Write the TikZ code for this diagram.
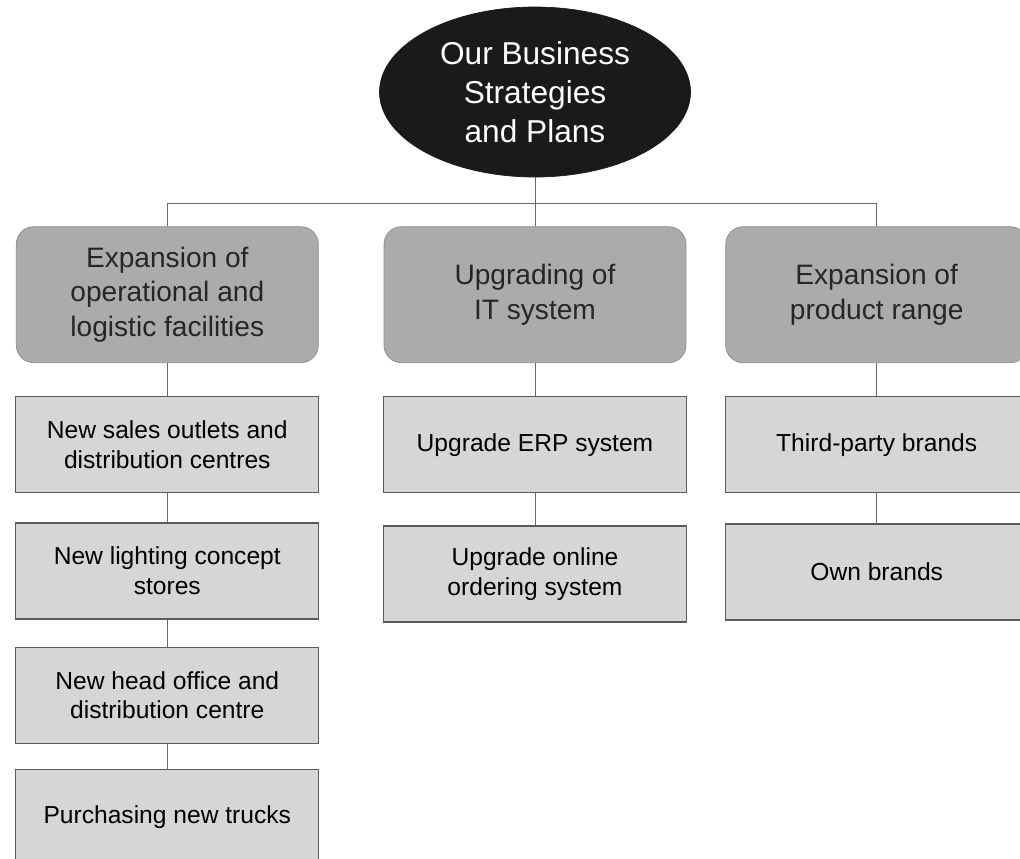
\documentclass[tikz,border=0pt]{standalone}
\usepackage{fontspec}
\setmainfont{Liberation Sans}
\usepackage{xcolor}
\usetikzlibrary{shapes.geometric, positioning}
\definecolor{headfill}{HTML}{1A1A1A}
\definecolor{groupfill}{HTML}{ABABAB}
\definecolor{itemfill}{HTML}{D6D6D6}
\definecolor{edgegray}{HTML}{5A5A5A}
\tikzset{
  headnode/.style={ellipse,fill=headfill,draw=headfill,text=white,inner sep=0pt,
    minimum width=6.22cm,minimum height=3.4cm,align=center,
    font=\fontsize{18}{22.2}\selectfont},
  groupbox/.style={rectangle,rounded corners=0.35cm,draw=black!45,fill=groupfill,
    minimum width=6.04cm,minimum height=2.72cm,align=center,text=black!85,
    font=\fontsize{16}{19.6}\selectfont},
  itembox/.style={rectangle,draw=edgegray,line width=0.7pt,fill=itemfill,
    minimum width=6.06cm,minimum height=1.92cm,align=center,
    font=\fontsize{14}{17}\selectfont},
  link/.style={draw=black!60,line width=0.5pt}
}
\begin{document}
\begin{tikzpicture}[node distance=0.58cm]
  \useasboundingbox (0,0) rectangle (20.4,-17.16);
  \clip (0,0) rectangle (20.4,-17.16);
  \node[headnode] (head) at (10.7,-1.84) {Our Business\\ Strategies\\ and Plans};

  % strategy groups
  \node[groupbox, below=0.98cm of head] (mid) {Upgrading of\\ IT system};
  \node[groupbox, left=1.3cm of mid] (lft) {Expansion of\\ operational and\\ logistic facilities};
  \node[groupbox, right=0.78cm of mid] (rgt) {Expansion of\\ product range};

  % plans under each group
  \node[itembox, below=0.66cm of lft] (lft1) {New sales outlets and\\ distribution centres};
  \node[itembox, below=of lft1] (lft2) {New lighting concept\\ stores};
  \node[itembox, below=0.54cm of lft2] (lft3) {New head office and\\ distribution centre};
  \node[itembox, below=0.5cm of lft3] (lft4) {Purchasing new trucks};

  \node[itembox, below=0.66cm of mid] (mid1) {Upgrade ERP system};
  \node[itembox, below=0.64cm of mid1] (mid2) {Upgrade online\\ ordering system};

  \node[itembox, below=0.66cm of rgt] (rgt1) {Third-party brands};
  \node[itembox, below=0.6cm of rgt1] (rgt2) {Own brands};

  \draw[link] (head.south) -- ++(0,-0.52) coordinate (bar);
  \draw[link] (lft.north) |- (bar) -| (rgt.north);
  \draw[link] (bar) -- (mid.north);
  \draw[link] (lft) -- (lft1);
  \draw[link] (lft1) -- (lft2);
  \draw[link] (lft2) -- (lft3);
  \draw[link] (lft3) -- (lft4);
  \draw[link] (mid) -- (mid1);
  \draw[link] (mid1) -- (mid2);
  \draw[link] (rgt) -- (rgt1);
  \draw[link] (rgt1) -- (rgt2);
\end{tikzpicture}
\end{document}
